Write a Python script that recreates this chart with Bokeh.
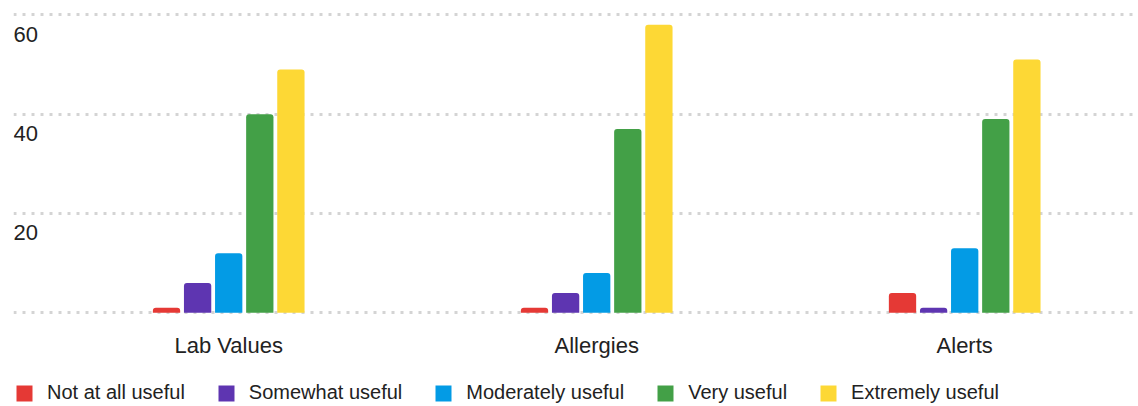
from bokeh.plotting import figure
from bokeh.models import ColumnDataSource, Range1d, FixedTicker, Legend, LegendItem
from bokeh.core.properties import value
from bokeh.embed import file_html
from bokeh.resources import INLINE

# ---- data ----
categories = ["Lab Values", "Allergies", "Alerts"]
series_names = ["Not at all useful", "Somewhat useful", "Moderately useful", "Very useful", "Extremely useful"]
not_at_all_useful = [1, 1, 4]
somewhat_useful = [6, 4, 1]
moderately_useful = [12, 8, 13]
very_useful = [40, 37, 39]
extremely_useful = [49, 58, 51]
y_ticks = [20, 40, 60]
grid_ticks = [0, 20, 40, 60]

series_values = [not_at_all_useful, somewhat_useful, moderately_useful, very_useful, extremely_useful]
colors = ["#E53935", "#5E35B1", "#039BE5", "#43A047", "#FDD835"]

FONT = "Liberation Sans"
TEXT_COLOR = "#222222"

x_start = -0.0848
x_end = 2.9723
p = figure(width=1138, height=406, output_backend="svg", toolbar_location=None,
           x_range=Range1d(x_start, x_end), y_range=Range1d(-18.86, 60.87),
           x_axis_location=None, y_axis_location=None,
           min_border_top=10, min_border_bottom=0, min_border_left=13, min_border_right=0)
p.outline_line_color = None
p.background_fill_color = "white"
p.border_fill_color = "white"

p.xgrid.visible = False
p.ygrid.ticker = FixedTicker(ticks=grid_ticks)
p.ygrid.grid_line_color = "#d4d4d4"
p.ygrid.grid_line_width = 3
p.ygrid.grid_line_dash = "3 6"

centers = [i + 0.5 for i in range(len(categories))]

bar_w = 0.0742
pitch = 0.0845
items = []
for i, (name, vals, col) in enumerate(zip(series_names, series_values, colors)):
    src = ColumnDataSource(dict(x=[c + (i - 2) * pitch for c in centers], top=vals))
    r = p.vbar(x="x", top="top", bottom=0, width=bar_w, source=src,
               fill_color=col, line_color=None, border_radius=(3, 3, 0, 0))
    items.append(LegendItem(label=name, renderers=[r]))

# category labels under the baseline
xsrc = ColumnDataSource(dict(x=centers, y=[0] * len(categories), t=categories))
p.text(x="x", y="y", text="t", source=xsrc, text_font=value(FONT), text_font_size="22px",
       text_color=TEXT_COLOR, text_align="center", text_baseline="alphabetic", y_offset=32.5)

# y tick labels drawn inside the plot area, below their gridlines
ysrc = ColumnDataSource(dict(x=[x_start] * len(y_ticks), y=y_ticks, t=[str(v) for v in y_ticks]))
p.text(x="x", y="y", text="t", source=ysrc, text_font=value(FONT), text_font_size="22px",
       text_color=TEXT_COLOR, text_align="left", text_baseline="alphabetic", y_offset=19.5)

legend = Legend(items=items, orientation="horizontal", location=(1, 2),
                margin=0, padding=0, spacing=31, glyph_width=20, glyph_height=20,
                label_standoff=13, label_text_font=FONT, label_text_font_size="20px",
                label_text_color=TEXT_COLOR, border_line_alpha=0, background_fill_alpha=0)
p.add_layout(legend, "center")

open("out.html", "w").write(file_html(p, INLINE))
